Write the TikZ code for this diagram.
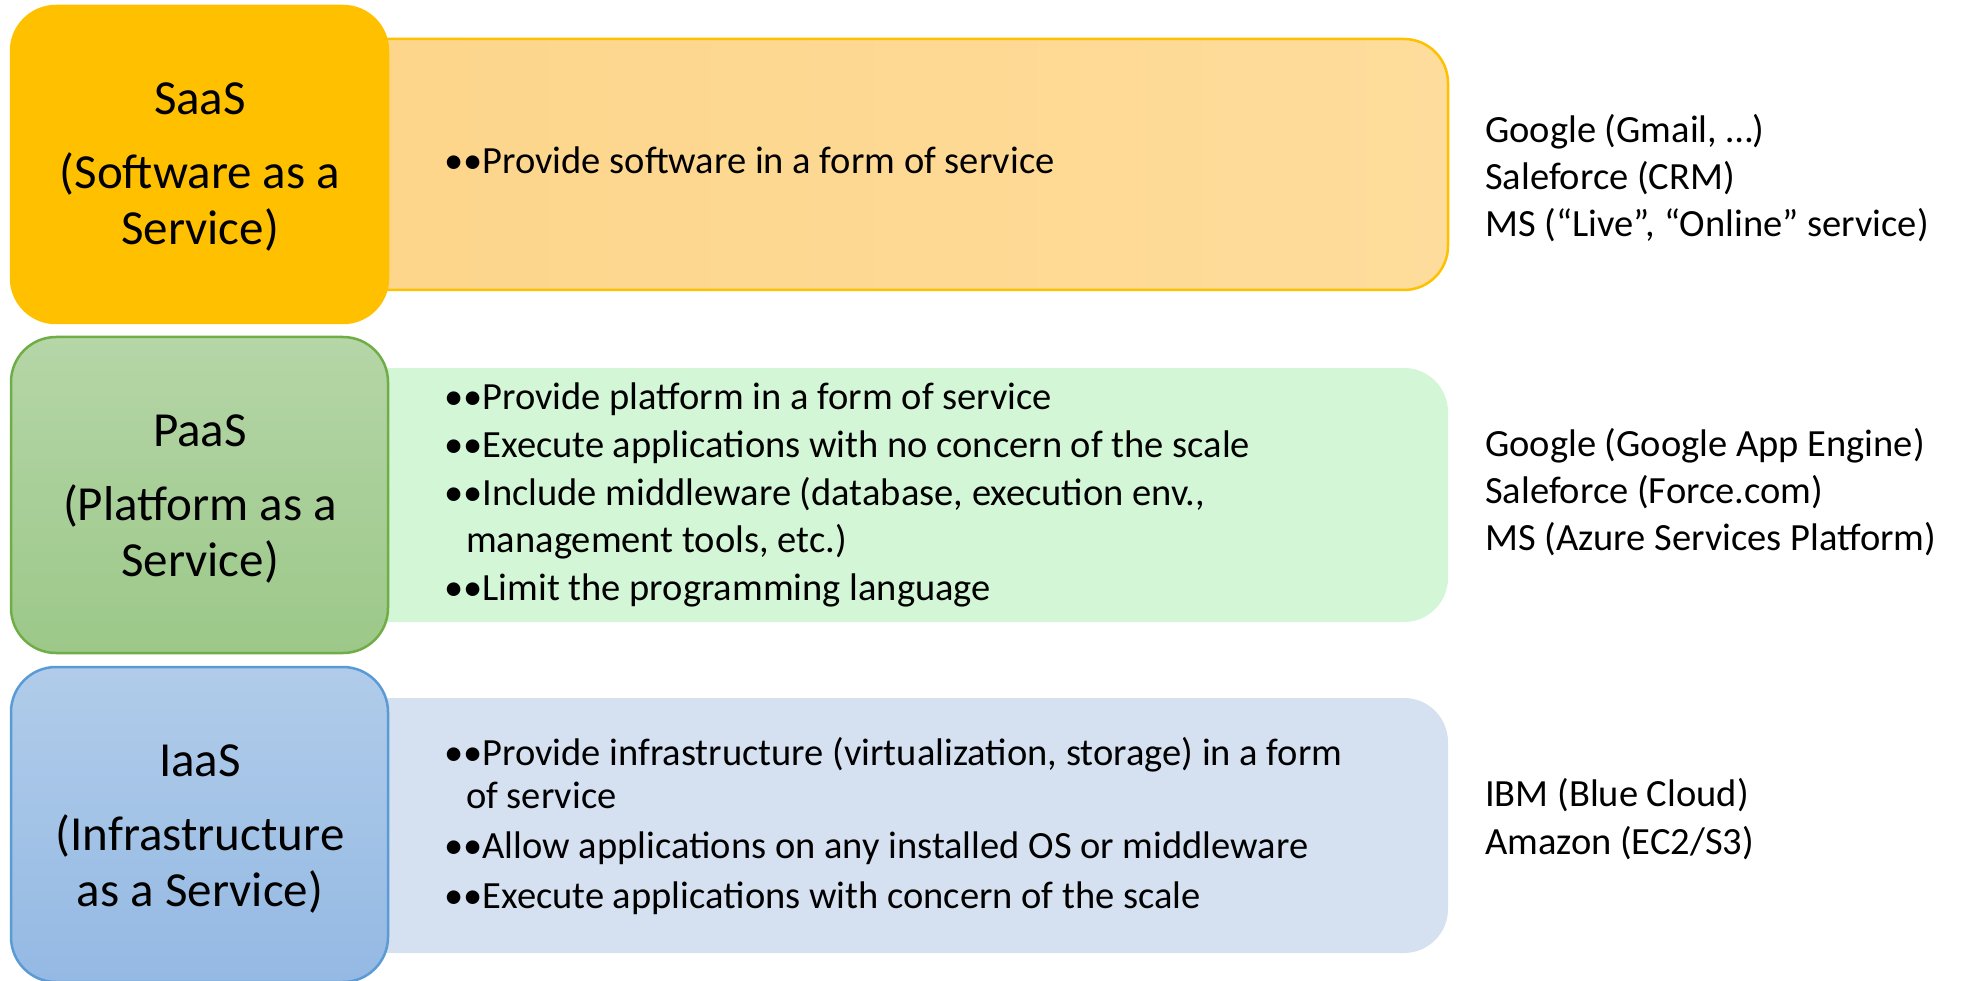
\documentclass[tikz,border=0pt]{standalone}
\usepackage{fontspec}
\setmainfont{Carlito}
\definecolor{saasL}{HTML}{FFC000}
\definecolor{saasRa}{HTML}{FDD58A}
\definecolor{saasRb}{HTML}{FEDC9B}
\definecolor{paasTop}{HTML}{B5D6A7}
\definecolor{paasBot}{HTML}{9CC889}
\definecolor{paasEdge}{HTML}{70AD47}
\definecolor{paasR}{HTML}{D3F6D6}
\definecolor{iaasTop}{HTML}{B1CCEA}
\definecolor{iaasBot}{HTML}{94B9E3}
\definecolor{iaasEdge}{HTML}{5B9BD5}
\definecolor{iaasR}{HTML}{D5E1F0}
\begin{document}
\begin{tikzpicture}[x=1pt,y=-1pt,
  leftbox/.style={rectangle, rounded corners=45pt, minimum width=377pt, line width=2.5pt, inner sep=0pt},
  rightbox/.style={rectangle, rounded corners=44pt, minimum width=1148pt, inner sep=0pt},
  title/.style={anchor=base, font=\fontsize{49}{59}\selectfont, inner sep=0pt},
  body/.style={anchor=base west, font=\fontsize{38.5}{47}\selectfont, inner sep=0pt},
]
\useasboundingbox (0,0) rectangle (1961,981);

% right (description) boxes
\node[rightbox, minimum height=251pt, left color=saasRa, right color=saasRb, draw=saasL, line width=2.5pt] (saasR) at (874,164.5) {};
\node[rightbox, minimum height=254pt, fill=paasR] (paasR) at (874,495) {};
\node[rightbox, minimum height=255pt, fill=iaasR] (iaasR) at (874,825.5) {};

% left (title) boxes
\node[leftbox, minimum height=317pt, fill=saasL, draw=saasL] (saasL) at (199.5,164.5) {};
\node[leftbox, minimum height=316pt, top color=paasTop, bottom color=paasBot, draw=paasEdge] (paasL) at (199.5,495) {};
\node[leftbox, minimum height=315pt, top color=iaasTop, bottom color=iaasBot, draw=iaasEdge] (iaasL) at (199.5,824.5) {};

% titles
\node[title] (saasT1) at (200,115) {SaaS};
\node[title] (saasT2) at (200,189) {(Software as a};
\node[title] (saasT3) at (200,245) {Service)};
\node[title] (paasT1) at (200,446) {PaaS};
\node[title] (paasT2) at (200,520) {(Platform as a};
\node[title] (paasT3) at (200,576) {Service)};
\node[title] (iaasT1) at (200,776) {IaaS};
\node[title] (iaasT2) at (200,850) {(Infrastructure};
\node[title] (iaasT3) at (200,906) {as a Service)};

% bullets
\node[body] (sb1) at (444,174) {••Provide software in a form of service};

\node[body] (pb1) at (444,409) {••Provide platform in a form of service};
\node[body] (pb2) at (444,457) {••Execute applications with no concern of the scale};
\node[body] (pb3) at (444,505) {••Include middleware (database, execution env.,};
\node[body] (pb3b) at (466,552) {management tools, etc.)};
\node[body] (pb4) at (444,600) {••Limit the programming language};

\node[body] (ib1) at (444,765) {••Provide infrastructure (virtualization, storage) in a form};
\node[body] (ib1b) at (466,808) {of service};
\node[body] (ib2) at (444,858) {••Allow applications on any installed OS or middleware};
\node[body] (ib3) at (444,908) {••Execute applications with concern of the scale};

% examples
\node[body] (se1) at (1485,143) {Google (Gmail, …)};
\node[body] (se2) at (1485,190) {Saleforce (CRM)};
\node[body] (se3) at (1485,237) {MS (“Live”, “Online” service)};

\node[body] (pe1) at (1485,456) {Google (Google App Engine)};
\node[body] (pe2) at (1485,503) {Saleforce (Force.com)};
\node[body] (pe3) at (1485,550) {MS (Azure Services Platform)};

\node[body] (ie1) at (1485,806) {IBM (Blue Cloud)};
\node[body] (ie2) at (1485,854) {Amazon (EC2/S3)};
\end{tikzpicture}
\end{document}
